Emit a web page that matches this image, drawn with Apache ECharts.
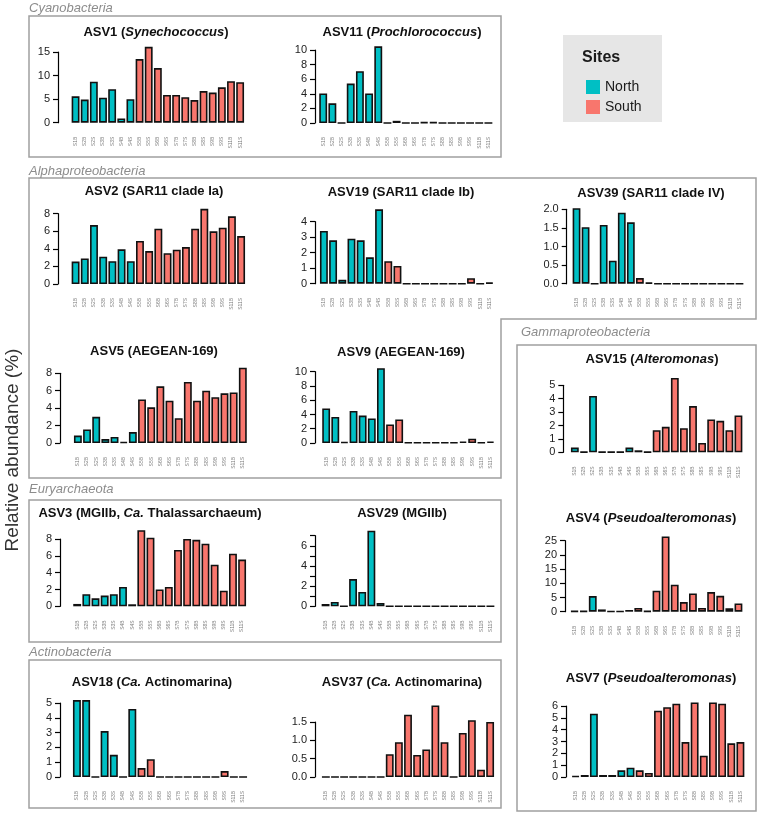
<!DOCTYPE html>
<html><head><meta charset="utf-8">
<script src="https://cdn.jsdelivr.net/npm/echarts@6/dist/echarts.min.js"></script>
<style>html,body{margin:0;padding:0;background:#fff}#c{width:758px;height:817px}</style>
</head><body><div id="c"></div>
<script>
// ---------- DATA ----------
const categories = ['S1B','S2B','S2S','S3B','S3S','S4B','S4S','S5B','S5S','S6B','S6S','S7B','S7S','S8B','S8S','S9B','S9S','S11B','S11S'];
const sitesDefault = ['N','N','N','N','N','N','N','S','S','S','S','S','S','S','S','S','S','S','S'];
const sitesAsv29  = ['S','N','N','N','N','N','N','S','S','S','S','S','S','S','S','S','S','S','S'];
const siteNames = ['North','South'];

const asv1  = [5.6,4.9,8.7,5.3,7.1,0.9,5.0,13.5,16.1,11.6,5.9,5.9,5.4,4.8,6.7,6.4,7.5,8.8,8.6];
const asv11 = [4.05,2.7,0,5.4,7.1,4.05,10.5,0,0.3,0,0,0.1,0.1,0,0,0,0,0,0];
const asv2  = [2.55,2.9,6.7,3.1,2.6,3.95,2.6,4.9,3.75,6.3,3.5,3.9,4.2,6.3,8.55,6.0,6.4,7.7,5.45];
const asv19 = [3.4,2.8,0.25,2.9,2.8,1.7,4.8,1.45,1.15,0,0,0,0,0,0,0,0.35,0,0.07];
const asv39 = [2.03,1.52,0,1.58,0.62,1.91,1.65,0.15,0.03,0,0,0,0,0,0,0,0,0,0];
const asv5  = [0.85,1.55,3.0,0.45,0.7,0.12,1.25,5.0,4.1,6.5,4.85,2.85,7.0,4.85,6.0,5.25,5.7,5.8,8.65];
const asv9  = [4.85,3.65,0.15,4.5,3.85,3.45,10.5,2.6,3.3,0.05,0.05,0.05,0.05,0.05,0.05,0.2,0.6,0.05,0.2];
const asv15 = [0.35,0.03,4.2,0.03,0.03,0.03,0.35,0.15,0.02,1.65,1.9,5.55,1.8,3.45,0.7,2.45,2.35,1.65,2.75];
const asv4  = [0.2,0.2,5.5,0.8,0.1,0.1,0.6,1.3,0.2,7.4,26.5,9.5,3.4,6.4,1.3,6.9,5.6,1.2,2.9];
const asv7  = [0.08,0.17,5.35,0.17,0.17,0.56,0.79,0.56,0.34,5.6,5.9,6.2,2.95,6.3,1.8,6.3,6.2,2.85,2.95];
const asv3  = [0.28,1.43,0.95,1.27,1.43,2.3,0.24,9.05,8.15,2.0,2.3,6.7,8.0,7.9,7.45,4.95,1.85,6.25,5.55];
const asv29 = [0.23,0.43,0,2.7,1.42,7.5,0.33,0,0,0,0,0,0,0,0,0,0,0,0];
const asv18 = [5.2,5.2,0,3.1,1.5,0,4.6,0.6,1.2,0,0,0,0,0,0,0,0.4,0,0];
const asv37 = [0,0,0,0,0,0,0,0.62,0.95,1.7,0.6,0.75,1.95,0.95,0,1.2,1.55,0.2,1.5];

// ---------- PANEL DEFINITIONS (text + axis scale) ----------
const panels = [
  {key:'asv1',  values:asv1,  sites:sitesDefault, head:'ASV1 (',  ital:'Synechococcus', tail:')', max:15, step:5},
  {key:'asv11', values:asv11, sites:sitesDefault, head:'ASV11 (', ital:'Prochlorococcus', tail:')', max:10, step:2},
  {key:'asv2',  values:asv2,  sites:sitesDefault, head:'ASV2 (SAR11 clade Ia)', max:8, step:2},
  {key:'asv19', values:asv19, sites:sitesDefault, head:'ASV19 (SAR11 clade Ib)', max:4, step:1},
  {key:'asv39', values:asv39, sites:sitesDefault, head:'ASV39 (SAR11 clade IV)', max:2, step:0.5, dec:1},
  {key:'asv5',  values:asv5,  sites:sitesDefault, head:'ASV5 (AEGEAN-169)', max:8, step:2},
  {key:'asv9',  values:asv9,  sites:sitesDefault, head:'ASV9 (AEGEAN-169)', max:10, step:2},
  {key:'asv15', values:asv15, sites:sitesDefault, head:'ASV15 (', ital:'Alteromonas', tail:')', max:5, step:1},
  {key:'asv4',  values:asv4,  sites:sitesDefault, head:'ASV4 (', ital:'Pseudoalteromonas', tail:')', max:25, step:5},
  {key:'asv7',  values:asv7,  sites:sitesDefault, head:'ASV7 (', ital:'Pseudoalteromonas', tail:')', max:6, step:1},
  {key:'asv3',  values:asv3,  sites:sitesDefault, head:'ASV3 (MGIIb, ', ital:'Ca.', tail:' Thalassarchaeum)', max:8, step:2},
  {key:'asv29', values:asv29, sites:sitesAsv29,   head:'ASV29 (MGIIb)', max:7, step:1, labelEvery:2},
  {key:'asv18', values:asv18, sites:sitesDefault, head:'ASV18 (', ital:'Ca.', tail:' Actinomarina)', max:5, step:1},
  {key:'asv37', values:asv37, sites:sitesDefault, head:'ASV37 (', ital:'Ca.', tail:' Actinomarina)', max:1.5, step:0.5, dec:1}
];

// ---------- LAYOUT (pixels) ----------
const layout = {
  asv1:  {ax:58,  bl:71.7,  br:244,   y0:122.7, yt:52,    tx:156, ty:32},
  asv11: {ax:315, bl:319.3, br:492.3, y0:123,   yt:50,    tx:402, ty:32},
  asv2:  {ax:58,  bl:71.7,  br:245,   y0:284,   yt:213.7, tx:154, ty:191},
  asv19: {ax:315, bl:320,   br:493.3, y0:283.7, yt:221.7, tx:401, ty:192},
  asv39: {ax:566.7,bl:572.7,br:743.3, y0:283.7, yt:209.3, tx:651, ty:193},
  asv5:  {ax:60,  bl:74,    br:246.7, y0:443,   yt:373.3, tx:154, ty:351},
  asv9:  {ax:315, bl:322.3, br:494.3, y0:443,   yt:371.7, tx:401, ty:352},
  asv15: {ax:563.3,bl:571,  br:742.3, y0:452.3, yt:385.3, tx:652, ty:359},
  asv4:  {ax:565, bl:570.7, br:742.3, y0:611.7, yt:540.7, tx:651, ty:518},
  asv7:  {ax:566, bl:571.7, br:744.3, y0:777,   yt:706,   tx:651, ty:678},
  asv3:  {ax:60,  bl:73.3,  br:246,   y0:606.3, yt:539,   tx:150, ty:513},
  asv29: {ax:315, bl:321.7, br:494.3, y0:606.3, yt:535.7, tx:402, ty:513},
  asv18: {ax:60,  bl:73,    br:247,   y0:777,   yt:703,   tx:152, ty:682},
  asv37: {ax:315, bl:322,   br:494,   y0:777,   yt:722,   tx:402, ty:682}
};

const FONT = '"Liberation Sans", Arial, Helvetica, sans-serif';
const COLORS = {North:'#00BFC4', South:'#F8766D'};

const grid = [], xAxis = [], yAxis = [], series = [], graphic = [];

panels.forEach((p, i) => {
  const L = layout[p.key];
  const left = L.bl - 0.7, width = L.br - L.bl + 1.4;
  grid.push({left: left, top: L.yt, width: width, height: L.y0 - L.yt, containLabel:false});
  xAxis.push({
    type:'category', gridIndex:i, data:categories,
    axisLine:{show:false}, axisTick:{show:false},
    axisLabel:{rotate:90, fontSize:5, color:'#7a7a7a', margin:14, interval:0, fontFamily:FONT}
  });
  yAxis.push({
    type:'value', gridIndex:i, min:0, max:p.max, interval:p.step,
    offset: left - L.ax,
    splitLine:{show:false},
    axisLine:{show:true, lineStyle:{color:'#000', width:1.2}},
    axisTick:{show:true, length:5, lineStyle:{color:'#000', width:1.2}},
    axisLabel:{fontSize:11, color:'#222', margin:8, fontFamily:FONT,
      formatter: v => {
        if (p.labelEvery && Math.round(v) % p.labelEvery !== 0) return '';
        return p.dec ? v.toFixed(p.dec) : String(v);
      }}
  });
  siteNames.forEach(sn => {
    const code = sn[0];
    series.push({
      name: sn, type:'bar', xAxisIndex:i, yAxisIndex:i,
      data: p.values.map((v, k) => p.sites[k] === code ? v : '-'),
      barGap:'-100%', barCategoryGap:'14%', clip:false,
      itemStyle:{color:COLORS[sn], borderColor:'#111', borderWidth:1.6},
      emphasis:{disabled:true}, animation:false
    });
  });
  // panel title
  const rich = {
    b:{fontWeight:'bold', fontSize:13, fontFamily:FONT, fill:'#111'},
    i:{fontWeight:'bold', fontStyle:'italic', fontSize:13, fontFamily:FONT, fill:'#111'}
  };
  let txt = '{b|' + p.head + '}';
  if (p.ital) txt += '{i|' + p.ital + '}{b|' + p.tail + '}';
  graphic.push({type:'text', x:L.tx, y:L.ty, style:{text:txt, rich:rich, align:'center', verticalAlign:'middle'}});
});

// group boxes
const boxStyle = {fill:'none', stroke:'#a0a0a0', lineWidth:1.5};
graphic.push({type:'rect', shape:{x:29, y:16, width:472, height:141}, style:boxStyle});
graphic.push({type:'polygon', shape:{points:[[29,178],[756,178],[756,319],[501,319],[501,478],[29,478]]}, style:boxStyle});
graphic.push({type:'rect', shape:{x:29, y:500, width:472, height:142}, style:boxStyle});
graphic.push({type:'rect', shape:{x:29, y:660, width:472, height:148}, style:boxStyle});
graphic.push({type:'rect', shape:{x:517, y:345, width:239, height:466}, style:boxStyle});

// group labels
const grpStyle = {fontSize:13, fontStyle:'italic', fontFamily:FONT, fill:'#8c8c8c', verticalAlign:'middle'};
[['Cyanobacteria',29,8],['Alphaproteobacteria',29,171],['Euryarchaeota',29,489],['Actinobacteria',29,652],['Gammaproteobacteria',521,332]]
  .forEach(g => graphic.push({type:'text', x:g[1], y:g[2], style:Object.assign({text:g[0]}, grpStyle)}));

// y axis title
graphic.push({type:'text', x:13, y:450, rotation:Math.PI/2,
  style:{text:'Relative abundance (%)', fontSize:19, fontFamily:FONT, fill:'#333', align:'center', verticalAlign:'middle'}});

// legend box
graphic.push({type:'rect', shape:{x:563, y:35, width:99, height:87}, style:{fill:'#e6e6e6', stroke:'none'}});
graphic.push({type:'text', x:582, y:58, style:{text:'Sites', fontSize:16, fontWeight:'bold', fontFamily:FONT, fill:'#1a1a1a', verticalAlign:'middle'}});

const chart = echarts.init(document.getElementById('c'), null, {renderer:'canvas'});
chart.setOption({
  animation:false,
  grid, xAxis, yAxis, series, graphic,
  legend:{data:siteNames, orient:'vertical', left:581, top:75, itemWidth:14, itemHeight:14, itemGap:6,
    icon:'rect', itemStyle:{borderWidth:0}, textStyle:{fontSize:14, fontFamily:FONT, color:'#1a1a1a'}, selectedMode:false}
});
</script></body></html>
